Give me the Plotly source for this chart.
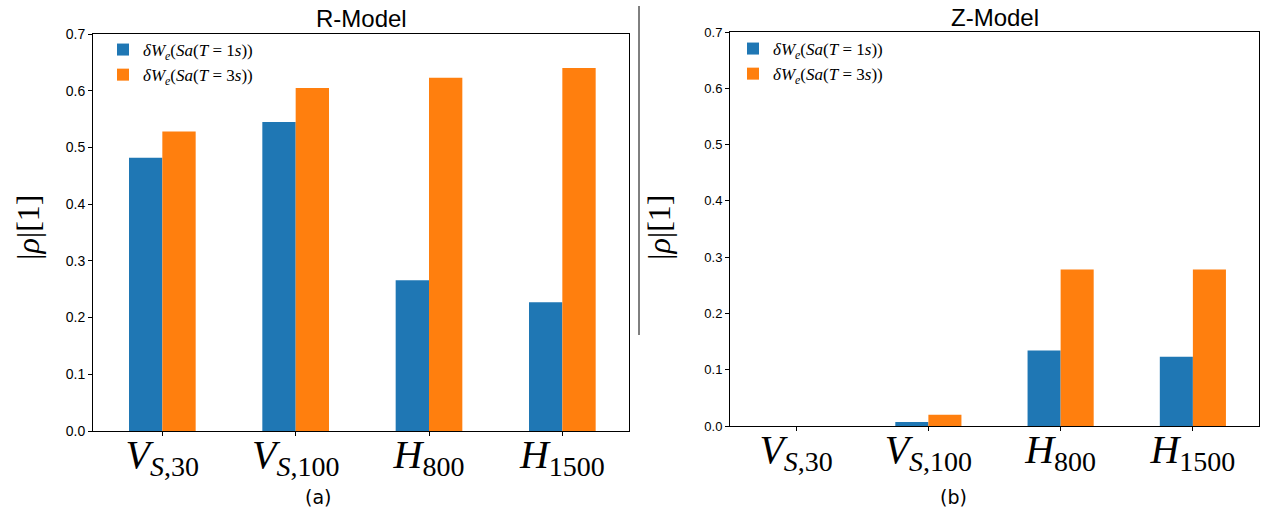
import plotly.graph_objects as go

# ---- data ----
categories = ["V_S,30", "V_S,100", "H_800", "H_1500"]
tick_labels = [
    "<i>V</i><sub><i>S</i>,30</sub>",
    "<i>V</i><sub><i>S</i>,100</sub>",
    "<i>H</i><sub>800</sub>",
    "<i>H</i><sub>1500</sub>",
]
series_names = [
    "<i>δW</i><sub><i>e</i></sub>(<i>Sa</i>(<i>T</i> = 1<i>s</i>))",
    "<i>δW</i><sub><i>e</i></sub>(<i>Sa</i>(<i>T</i> = 3<i>s</i>))",
]
r_model_t1 = [0.482, 0.545, 0.266, 0.227]
r_model_t3 = [0.528, 0.605, 0.623, 0.640]
z_model_t1 = [0.0, 0.007, 0.134, 0.123]
z_model_t3 = [0.0, 0.020, 0.278, 0.278]
y_ticks = [0.0, 0.1, 0.2, 0.3, 0.4, 0.5, 0.6, 0.7]

colors = ["#1f77b4", "#ff7f0e"]
W, H = 1278, 513

fig = go.Figure()
for vals, name, col in zip([r_model_t1, r_model_t3], series_names, colors):
    fig.add_trace(go.Bar(x=categories, y=vals, name=name, marker_color=col,
                         marker_line_width=0, xaxis="x", yaxis="y", legend="legend"))
for vals, name, col in zip([z_model_t1, z_model_t3], series_names, colors):
    fig.add_trace(go.Bar(x=categories, y=vals, name=name, marker_color=col,
                         marker_line_width=0, xaxis="x2", yaxis="y2", legend="legend2"))

def px_x(sx):
    return sx / W

def px_y(sy):
    return 1 - sy / H

axis_common = dict(showline=True, mirror=True, linecolor="black", linewidth=1,
                   ticks="outside", ticklen=4, tickcolor="black", showgrid=False,
                   zeroline=False, automargin=False)

xfont = dict(family="Liberation Serif", size=40, color="black")
legfont = dict(family="Liberation Serif", size=17, color="black")

fig.update_layout(
    width=W, height=H, margin=dict(l=0, r=0, t=0, b=0),
    paper_bgcolor="white", plot_bgcolor="white",
    barmode="group", bargap=0.5, bargroupgap=0,
    xaxis=dict(domain=[px_x(93), px_x(629)], anchor="y", type="category",
               range=[-0.52, 3.5], tickvals=categories, ticktext=tick_labels,
               tickfont=xfont, ticklabelstandoff=-16, **axis_common),
    yaxis=dict(domain=[px_y(431), px_y(34)], anchor="x", range=[0, 0.7],
               tickvals=y_ticks, tickformat=".1f",
               tickfont=dict(family="Liberation Sans", size=14, color="black"),
               **axis_common),
    xaxis2=dict(domain=[px_x(730), px_x(1259)], anchor="y2", type="category",
                range=[-0.5, 3.5], tickvals=categories, ticktext=tick_labels,
                tickfont=xfont, ticklabelstandoff=-16, **axis_common),
    yaxis2=dict(domain=[px_y(426), px_y(32)], anchor="x2", range=[0, 0.7],
                tickvals=y_ticks, tickformat=".1f",
                tickfont=dict(family="Liberation Sans", size=13, color="black"),
                **axis_common),
    legend=dict(x=px_x(103), y=px_y(32), xanchor="left", yanchor="top",
                bgcolor="rgba(0,0,0,0)", font=legfont, itemclick=False),
    legend2=dict(x=px_x(733), y=px_y(31), xanchor="left", yanchor="top",
                 bgcolor="rgba(0,0,0,0)", font=legfont, itemclick=False),
    showlegend=True,
)

def note(text, sx, sy, font, angle=0):
    return dict(text=text, x=px_x(sx), y=px_y(sy), xref="paper", yref="paper",
                xanchor="center", yanchor="middle", textangle=angle,
                showarrow=False, font=font)

ann = [
    note("R-Model", 361, 19, dict(family="Liberation Sans", size=24, color="black")),
    note("Z-Model", 995, 17, dict(family="Liberation Sans", size=24, color="black")),
    note("(a)", 318, 497, dict(family="DejaVu Sans", size=19, color="black")),
    note("(b)", 953, 497, dict(family="DejaVu Sans", size=19, color="black")),
]
ylab = "|<i>ρ</i>|[1]"
yfont = dict(family="Liberation Serif", size=32, color="black")
ann.append(note(ylab, 28, 228, yfont, -90))
ann.append(note(ylab, 659, 228, yfont, -90))
fig.update_layout(annotations=ann)

fig.add_shape(type="line", xref="paper", yref="paper",
              x0=px_x(639), x1=px_x(639), y0=px_y(6), y1=px_y(335),
              line=dict(color="black", width=1))

# remove the browser's default 8px body margin so the figure fills the window
fig.write_html("out.html",
               config={"displayModeBar": False},
               post_script="document.body.style.margin='0';document.body.style.overflow='hidden';")
